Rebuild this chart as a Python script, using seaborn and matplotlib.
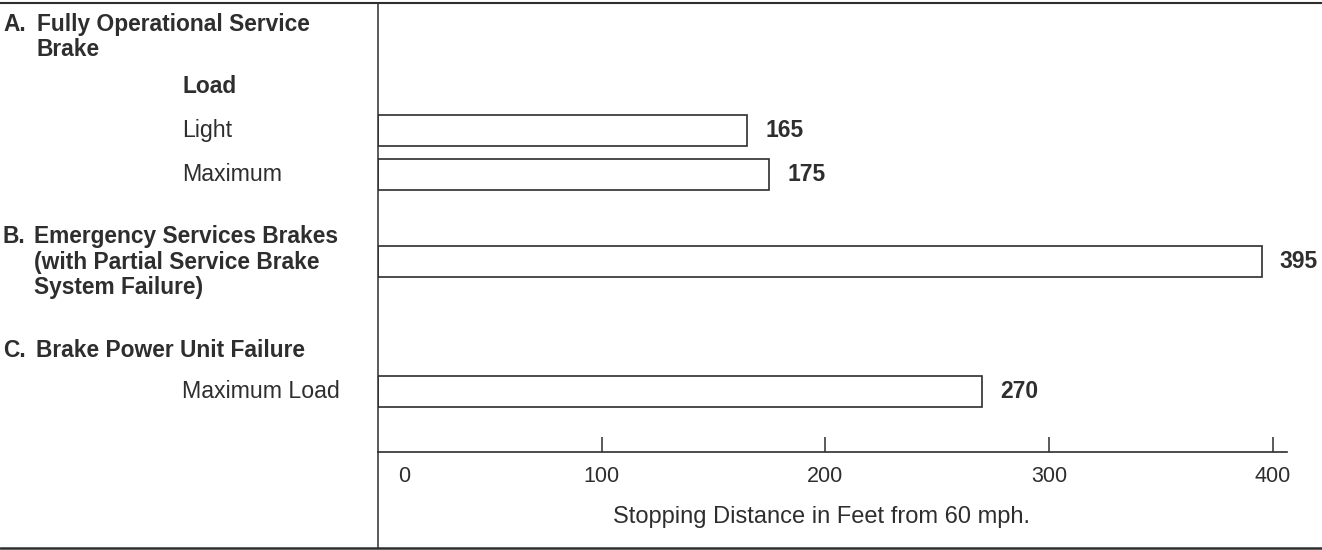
import matplotlib
matplotlib.use("Agg")
import matplotlib.pyplot as plt
import matplotlib.transforms as mtransforms
from matplotlib.lines import Line2D
import pandas as pd
import seaborn as sns

# data
rows = ["Light", "Maximum", "Emergency", "Maximum Load"]
distances = [165, 175, 395, 270]
row_labels = {"Light": "Light", "Maximum": "Maximum", "Maximum Load": "Maximum Load"}
tick_values = [0, 100, 200, 300, 400]
x_label = "Stopping Distance in Feet from 60 mph."
section_a = ["Fully Operational Service", "Brake"]
section_b = ["Emergency Services Brakes", "(with Partial Service Brake", "System Failure)"]
section_c = ["Brake Power Unit Failure"]
load_header = "Load"

# category order with spacer slots for the section headings
order = ["Light", "Maximum", "_gap1", "Emergency", "_gap2", "_gap3", "Maximum Load"]

W, H = 1322, 550
sns.set_theme(style="white")
plt.rcParams["font.family"] = ["Liberation Sans", "DejaVu Sans"]
ink = "#2e2e2e"

fig = plt.figure(figsize=(W / 100, H / 100), dpi=100)
ax = fig.add_axes([378 / W, 1 - 452 / H, (1287 - 378) / W, (452 - 3) / H])

df = pd.DataFrame({"row": rows, "distance": distances})
sns.barplot(data=df, x="distance", y="row", order=order, orient="h",
            color="white", saturation=1, edgecolor=ink, linewidth=1.2,
            width=0.71, ax=ax)

ax.set_xlim(0, 406.4)
ax.set_ylim(7.38, -2.935)
ax.set_yticks([])
ax.set_ylabel("")
ax.set_xticks(tick_values)
ax.set_xticklabels([str(v) for v in tick_values])
ax.tick_params(axis="x", bottom=True, direction="in", length=11, width=1.1,
               color=ink, pad=10, labelsize=15.5, labelcolor=ink)
sns.despine(ax=ax, left=True)
ax.spines["bottom"].set_color(ink)
ax.spines["bottom"].set_linewidth(1.2)

# "0" sits a little right of the axis start, with no tick mark
t0 = ax.xaxis.get_major_ticks()[0]
t0.tick1line.set_visible(False)
t0.label1.set_transform(t0.label1.get_transform()
                        + mtransforms.ScaledTranslation(0.26, 0, fig.dpi_scale_trans))

ax.set_xlabel(x_label, fontsize=17, color=ink)
ax.xaxis.set_label_coords(0.488, -0.145)
ax.xaxis.label.set_va("center")

for c in ax.containers:
    ax.bar_label(c, fmt="%g", padding=13, fontsize=16.5, fontweight="bold", color=ink)

# row labels next to their bars
trans = mtransforms.blended_transform_factory(fig.transFigure, ax.transData)
for key, text in row_labels.items():
    ax.text(182 / W, order.index(key), text, transform=trans, va="center",
            fontsize=16.7, color=ink)


def head(x, y, s, **kw):
    fig.text(x / W, 1 - y / H, s, va="baseline", fontsize=16.4,
             fontweight="bold", color=ink, **kw)


head(3, 31, "A.")
for i, line in enumerate(section_a):
    head(37, 31 + 25.5 * i, line)
head(182, 93, load_header)
head(3, 243, "B.")
for i, line in enumerate(section_b):
    head(34, 243 + 25.5 * i, line)
head(3, 357, "C.")
for i, line in enumerate(section_c):
    head(36, 357 + 25.5 * i, line)

# frame rules
fig.add_artist(Line2D([0, 1], [1 - 3 / H] * 2, transform=fig.transFigure, color=ink, lw=1.5))
fig.add_artist(Line2D([0, 1], [1 - 547.5 / H] * 2, transform=fig.transFigure, color=ink, lw=1.8))
fig.add_artist(Line2D([378 / W] * 2, [1 - 3 / H, 1 - 547.5 / H], transform=fig.transFigure,
                      color=ink, lw=1.1))

fig.savefig("out.png", dpi=100)
